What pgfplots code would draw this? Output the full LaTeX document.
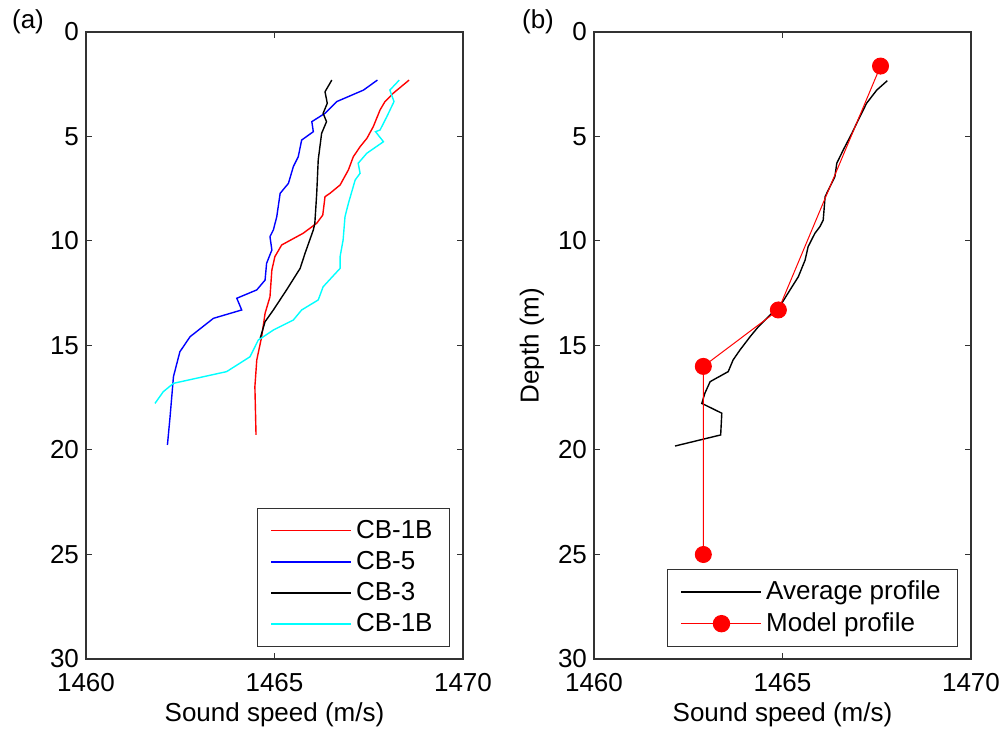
\documentclass[border=0pt]{standalone}
\usepackage{fontspec}
\setmainfont{Liberation Sans}
\usepackage{pgfplots}
\pgfplotsset{compat=1.18}
\definecolor{mred}{RGB}{255,0,0}
\definecolor{mblue}{RGB}{0,0,255}
\definecolor{mcyan}{RGB}{0,255,255}
\definecolor{mframe}{RGB}{50,50,50}
\newcommand\fs{\fontsize{13}{15.6}\selectfont}
\pgfplotsset{
  myaxis/.style={
    scale only axis, width=188.5pt, height=313.5pt,
    xmin=1460, xmax=1470, ymin=0, ymax=30, y dir=reverse,
    xtick={1460,1465,1470}, ytick={0,5,10,15,20,25,30},
    tick align=inside, major tick length=3pt,
    tick label style={font=\fs},
    label style={font=\fs},
    /pgf/number format/assume math mode=true,
    xticklabel style={/pgf/number format/1000 sep={}, yshift=-3.5pt},
    axis line style={mframe, line width=0.6pt},
    every tick/.style={mframe, line width=0.5pt},
    xlabel style={at={(axis description cs:0.5,-0.089)}, anchor=center},
    legend cell align=left,
    legend style={font=\fs, draw=mframe,
      row sep=1pt, inner xsep=6.5pt, inner ysep=4pt},
  }
}
\pgfplotstableread{
x y
1468.57 2.30
1468.15 2.93
1467.93 3.33
1467.80 3.73
1467.62 4.53
1467.45 5.09
1467.27 5.49
1467.09 5.97
1466.96 6.60
1466.74 7.32
1466.47 7.72
1466.34 7.88
1466.28 8.76
1466.12 9.15
1465.76 9.63
1465.19 10.19
1465.01 10.75
1464.93 11.39
1464.88 12.67
1464.75 13.46
1464.66 14.58
1464.53 15.69
1464.48 16.97
1464.51 19.28
}\cbred
\pgfplotstableread{
x y
1467.73 2.30
1467.36 2.78
1466.65 3.33
1466.34 3.89
1465.99 4.29
1466.03 4.77
1465.72 5.17
1465.63 5.97
1465.50 6.44
1465.37 7.24
1465.15 7.72
1465.06 8.84
1464.97 9.47
1464.88 9.79
1464.93 10.43
1464.79 11.07
1464.75 11.87
1464.53 12.34
1464.00 12.74
1464.13 13.30
1463.38 13.70
1462.76 14.58
1462.49 15.30
1462.32 16.49
1462.23 18.41
1462.16 19.76
}\cbfive
\pgfplotstableread{
x y
1466.52 2.30
1466.34 2.86
1466.40 3.41
1466.29 3.89
1466.38 4.29
1466.25 4.85
1466.16 6.12
1466.12 7.72
1466.07 9.15
1466.03 9.47
1465.81 10.59
1465.68 11.31
1465.32 12.34
1464.97 13.30
1464.75 13.86
1464.62 14.66
}\cbthree
\pgfplotstableread{
x y
1468.31 2.30
1468.06 2.78
1468.17 3.33
1467.98 4.05
1467.80 4.69
1467.68 4.77
1467.89 5.25
1467.45 5.80
1467.22 6.28
1467.27 6.76
1467.14 7.08
1466.96 8.20
1466.87 8.84
1466.82 9.95
1466.74 10.75
1466.74 11.31
1466.29 12.19
1466.16 12.82
1465.72 13.30
1465.50 13.78
1464.97 14.26
1464.57 14.74
1464.35 15.54
1464.08 15.85
1463.73 16.25
1462.32 16.81
1462.05 17.21
1461.83 17.77
}\cbcyan
\pgfplotstableread{
x y
1467.78 2.33
1467.50 2.78
1467.23 3.41
1467.01 4.21
1466.84 4.85
1466.61 5.65
1466.44 6.28
1466.39 6.92
1466.26 7.40
1466.13 7.88
1466.08 9.00
1465.99 9.32
1465.86 9.63
1465.68 10.27
1465.60 10.91
1465.42 11.71
1465.20 12.34
1464.98 12.98
1464.67 13.54
1464.36 14.10
1464.14 14.58
1463.87 15.22
1463.69 15.69
1463.56 16.25
1463.08 16.73
1462.94 17.29
1462.86 17.77
1463.39 18.24
1463.36 19.28
1462.15 19.81
}\avgprof
\pgfplotstableread{
x y
1467.60 1.63
1464.89 13.30
1462.90 16.00
1462.90 25.00
}\modelprof
\begin{document}
\begin{tikzpicture}
\useasboundingbox (-43pt,-36.5pt) rectangle (458.5pt,329.5pt);
\begin{axis}[myaxis, at={(0pt,0pt)}, anchor=south west,
  xlabel={Sound speed (m/s)},
  legend image code/.code={\draw[#1, line width=0.8pt] (0pt,0pt) -- (40pt,0pt);},
  legend style={at={(axis description cs:1,0)}, anchor=south east, xshift=-6.5pt, yshift=6pt}]
\addplot[mred, line width=0.7pt] table {\cbred};
\addlegendentry{CB-1B}
\addplot[mblue, line width=0.7pt] table {\cbfive};
\addlegendentry{CB-5}
\addplot[black, line width=0.7pt] table {\cbthree};
\addlegendentry{CB-3}
\addplot[mcyan, line width=0.7pt] table {\cbcyan};
\addlegendentry{CB-1B}
\end{axis}
\begin{axis}[myaxis, at={(254pt,0pt)}, anchor=south west,
  xlabel={Sound speed (m/s)}, ylabel={Depth (m)},
  ylabel style={at={(axis description cs:-0.1645,0.5)}, anchor=center},
  legend image code/.code={\draw[mark repeat=2,mark phase=2,#1, line width=0.7pt] plot coordinates {(0pt,0pt) (20pt,0pt) (40pt,0pt)};},
  legend style={at={(axis description cs:1,0)}, anchor=south east, xshift=-6.5pt, yshift=6pt}]
\addplot[black, line width=0.7pt] table {\avgprof};
\addlegendentry{Average profile}
\addplot[mred, line width=0.5pt, mark=*, mark size=4pt, mark options={fill=mred, draw=mred}] table {\modelprof};
\addlegendentry{Model profile}
\end{axis}
\node[font=\fs] at (-29pt,318.5pt) {(a)};
\node[font=\fs] at (226pt,318.5pt) {(b)};
\end{tikzpicture}
\end{document}
